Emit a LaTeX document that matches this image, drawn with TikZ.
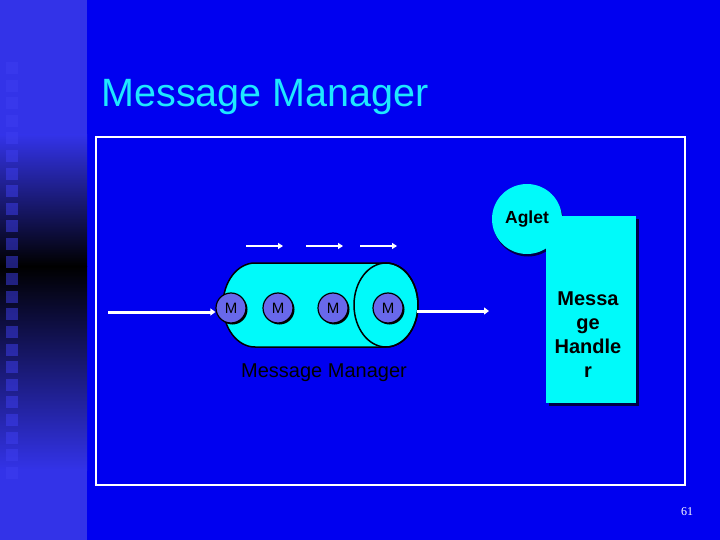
\documentclass[tikz,border=0pt]{standalone}
\usepackage{fontspec}
\setmainfont{Liberation Sans}
\newfontfamily\numfont{Liberation Serif}
\usetikzlibrary{arrows.meta,shadows}
\definecolor{bgblue}{RGB}{0,0,240}
\definecolor{sidebar}{RGB}{51,51,232}
\definecolor{sqcol}{RGB}{62,62,240}
\definecolor{cyanf}{RGB}{0,250,250}
\definecolor{titlec}{RGB}{30,232,255}
\definecolor{mfill}{RGB}{104,104,235}
\definecolor{shadowc}{RGB}{0,0,70}
\tikzset{
  wharrow/.style={draw=white, line width=2pt, -{Triangle[length=5pt,width=6pt]}},
  bigarrow/.style={draw=white, line width=3pt, -{Triangle[length=5pt,width=7pt]}},
  mball/.style={circle, draw=black, line width=1.2pt, fill=mfill, minimum size=30pt, inner sep=0pt,
     font=\fontsize{15}{16}\selectfont, text=black,
     drop shadow={shadow xshift=1.5pt, shadow yshift=-1.5pt, opacity=1, fill=black}},
  agletball/.style={circle, fill=cyanf, minimum size=70pt, inner sep=0pt,
     drop shadow={shadow xshift=1pt, shadow yshift=-2.5pt, opacity=1, fill=shadowc}},
  handlerbox/.style={rectangle, fill=cyanf, minimum width=90pt, minimum height=187pt, inner sep=0pt,
     drop shadow={shadow xshift=3pt, shadow yshift=-3pt, opacity=1, fill=shadowc}},
}
\begin{document}
\begin{tikzpicture}[x=1pt,y=-1pt]
\useasboundingbox (0,0) rectangle (720,540);
% background
\fill[bgblue] (0,0) rectangle (720,540);
% sidebar gradient
\fill[sidebar] (0,0) rectangle (87,135);
\shade[top color=sidebar, bottom color=black] (0,135) rectangle (87,266);
\shade[top color=black, bottom color=sidebar] (0,266) rectangle (87,470);
\fill[sidebar] (0,470) rectangle (87,540);
\foreach \i in {0,...,23} {
  \fill[sqcol, opacity=0.5] (6,62+17.6*\i) rectangle ++(12,12);
}
% title
\node[anchor=base west, text=titlec, font=\fontsize{39.5}{41}\selectfont] (title) at (98,107) {Message Manager};
% frame
\draw[white, line width=2pt] (96,137) rectangle (685,485);
% cylinder
\draw[fill=cyanf, line width=1.5pt] (255,263) -- (386,263)
   arc[start angle=270, end angle=450, x radius=32, y radius=42]
   -- (255,347)
   arc[start angle=90, end angle=270, x radius=32, y radius=42] -- cycle;
\draw[line width=1.5pt] (386,305) ellipse [x radius=32, y radius=42];
\coordinate (cylR) at (417,311);
% messages
\node[mball] (m1) at (231,308) {M};
\node[mball] (m2) at (278,308) {M};
\node[mball] (m3) at (333,308) {M};
\node[mball] (m4) at (388,308) {M};
\node[anchor=base, font=\fontsize{20}{22}\selectfont] (mmlabel) at (324,377) {Message Manager};
% flow arrows
\coordinate (a1s) at (246,246); \coordinate (a1e) at (283,246);
\coordinate (a2s) at (306,246); \coordinate (a2e) at (343,246);
\coordinate (a3s) at (360,246); \coordinate (a3e) at (397,246);
\draw[wharrow] (a1s) -- (a1e);
\draw[wharrow] (a2s) -- (a2e);
\draw[wharrow] (a3s) -- (a3e);
\coordinate (inL) at (108,312);
\draw[bigarrow] (inL) -- (inL -| m1.west);
\coordinate (outR) at (489,311);
\draw[bigarrow] (cylR) -- (outR);
% aglet and handler
\node[agletball] (aglet) at (527,219) {};
\node[handlerbox] (handler) at (591,309.5) {};
\node[font=\bfseries\fontsize{17.5}{18}\selectfont] (aglettext) at (aglet) {Aglet};
\node[align=center, font=\bfseries\fontsize{20}{24}\selectfont] (htext) at (588,335) {Messa\\ge\\Handle\\r};
% page number
\node[anchor=base, text=white, font=\numfont\fontsize{12}{13}\selectfont] (pnum) at (687,515) {61};
\end{tikzpicture}
\end{document}
